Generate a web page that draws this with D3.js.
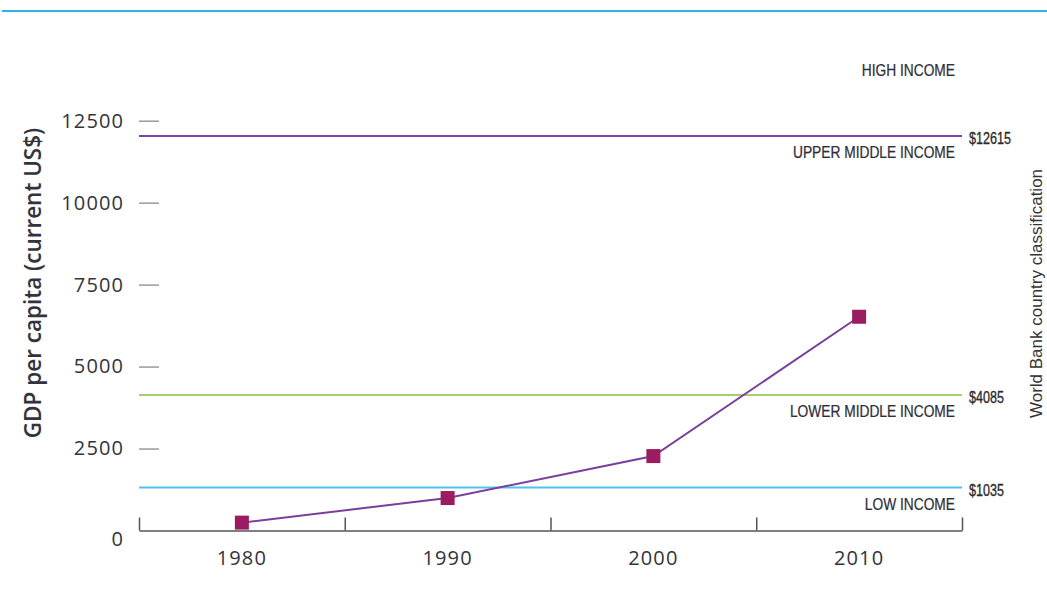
<!DOCTYPE html>
<html>
<head>
<meta charset="utf-8">
<script src="https://cdn.jsdelivr.net/npm/d3@7"></script>
<style>
  html, body { margin: 0; padding: 0; background: #fff; }
  svg { display: block; }
</style>
</head>
<body>
<svg id="chart" width="1047" height="600"></svg>
<script>
// GDP per capita by decade
const years = ["1980", "1990", "2000", "2010"];
const gdpPerCapita = [240, 990, 2270, 6520];

// Left axis ticks
const yTicks = [0, 2500, 5000, 7500, 10000, 12500];

// World Bank income thresholds (current US$) and the groups they separate
const thresholdValues = [12615, 4085, 1035];
const thresholdLabels = ["$12615", "$4085", "$1035"];
const thresholdColors = ["#7b44a6", "#a8cf6e", "#52c3ee"];
const incomeGroups = ["HIGH INCOME", "UPPER MIDDLE INCOME", "LOWER MIDDLE INCOME", "LOW INCOME"];

const svg = d3.select("#chart");
const left = 139, right = 962, baseY = 530.5;

const x = d3.scaleBand().domain(years).range([left, right]);
const xEdges = d3.scaleLinear().domain([0, years.length]).range([left, right]);
const y = d3.scaleLinear().domain([0, 12500]).range([baseY, 120.7]);
// Secondary (right) axis for the classification thresholds
const yClass = d3.scaleLinear().domain([0, 13000]).range([519, 124.4]);

const numFont = "'Open Sans', sans-serif";
const narrowFont = "'Liberation Sans', Arial, sans-serif";
const textColor = "#33333d";

// Top rule
svg.append("line")
  .attr("x1", 2).attr("x2", 1047).attr("y1", 11).attr("y2", 11)
  .attr("stroke", "#2fb4e6").attr("stroke-width", 2);

// Left axis: short tick dashes with labels
const yAxis = svg.append("g")
  .attr("transform", `translate(${left + 20},0)`)
  .call(d3.axisLeft(y).tickValues(yTicks).tickSize(20).tickPadding(15).tickFormat(d3.format("d")));
yAxis.select(".domain").remove();
yAxis.selectAll(".tick line").attr("stroke", "#9a9a9a").attr("stroke-width", 1.5);
yAxis.selectAll(".tick text")
  .attr("font-family", numFont).attr("font-size", 20)
  .attr("letter-spacing", 1.1).attr("fill", textColor);
yAxis.selectAll(".tick").filter(d => d === 0).select("line").remove();
yAxis.selectAll(".tick").filter(d => d === 0).select("text").attr("dy", "0.75em");

// Y axis title
svg.append("text")
  .attr("transform", `translate(41, 283) rotate(-90)`)
  .attr("text-anchor", "middle")
  .attr("font-family", numFont).attr("font-weight", 600).attr("font-size", 22.5)
  .attr("fill", textColor)
  .text("GDP per capita (current US$)");

// Right axis title
svg.append("text")
  .attr("transform", `translate(1042, 293.5) rotate(-90)`)
  .attr("text-anchor", "middle")
  .attr("font-family", narrowFont).attr("font-size", 17)
  .attr("fill", "#333")
  .text("World Bank country classification");

// Threshold lines
svg.append("g").selectAll("line")
  .data(thresholdValues)
  .join("line")
  .attr("x1", left).attr("x2", right)
  .attr("y1", d => yClass(d)).attr("y2", d => yClass(d))
  .attr("stroke", (d, i) => thresholdColors[i]).attr("stroke-width", 2);

// Threshold value labels
svg.append("g").selectAll("text")
  .data(thresholdValues)
  .join("text")
  .attr("transform", d => `translate(969, ${yClass(d) + 8}) scale(0.74,1)`)
  .attr("font-family", narrowFont).attr("font-size", 17)
  .attr("fill", "#2b2b2b").attr("stroke", "#2b2b2b").attr("stroke-width", 0.35)
  .text((d, i) => thresholdLabels[i]);

// Income group labels: the top group sits above the highest threshold,
// every other group just below its upper threshold
const groupY = incomeGroups.map((g, i) =>
  i === 0 ? yClass(thresholdValues[0]) - 60 : yClass(thresholdValues[i - 1]) + 22);
svg.append("g").selectAll("text")
  .data(incomeGroups)
  .join("text")
  .attr("transform", (d, i) => `translate(955, ${groupY[i]}) scale(0.81,1)`)
  .attr("text-anchor", "end")
  .attr("font-family", narrowFont).attr("font-size", 17)
  .attr("fill", "#2e2e3a").attr("stroke", "#2e2e3a").attr("stroke-width", 0.25)
  .text(d => d);

// Bottom axis: baseline with upward ticks at decade boundaries
const xAxis = svg.append("g")
  .attr("transform", `translate(0,${baseY})`)
  .call(d3.axisTop(xEdges).tickValues(d3.range(years.length + 1)).tickSize(13).tickSizeOuter(0).tickFormat(""));
xAxis.select(".domain").attr("stroke", "#555").attr("stroke-width", 1.5);
xAxis.selectAll(".tick line").attr("stroke", "#555").attr("stroke-width", 1.5);

// Year labels
const xLabels = svg.append("g")
  .attr("transform", `translate(0,${baseY})`)
  .call(d3.axisBottom(x).tickSize(0).tickPadding(20));
xLabels.select(".domain").remove();
xLabels.selectAll(".tick text")
  .attr("font-family", numFont).attr("font-size", 20)
  .attr("letter-spacing", 1.1).attr("fill", textColor);

// Data line and markers
const line = d3.line()
  .x((d, i) => x(years[i]) + x.bandwidth() / 2)
  .y(d => y(d));
svg.append("path")
  .datum(gdpPerCapita)
  .attr("d", line)
  .attr("fill", "none").attr("stroke", "#7a3f9e").attr("stroke-width", 2);

const sq = 14;
svg.append("g").selectAll("rect")
  .data(gdpPerCapita)
  .join("rect")
  .attr("x", (d, i) => x(years[i]) + x.bandwidth() / 2 - sq / 2)
  .attr("y", d => y(d) - sq / 2)
  .attr("width", sq).attr("height", sq)
  .attr("fill", "#9b1c60");
</script>
</body>
</html>
